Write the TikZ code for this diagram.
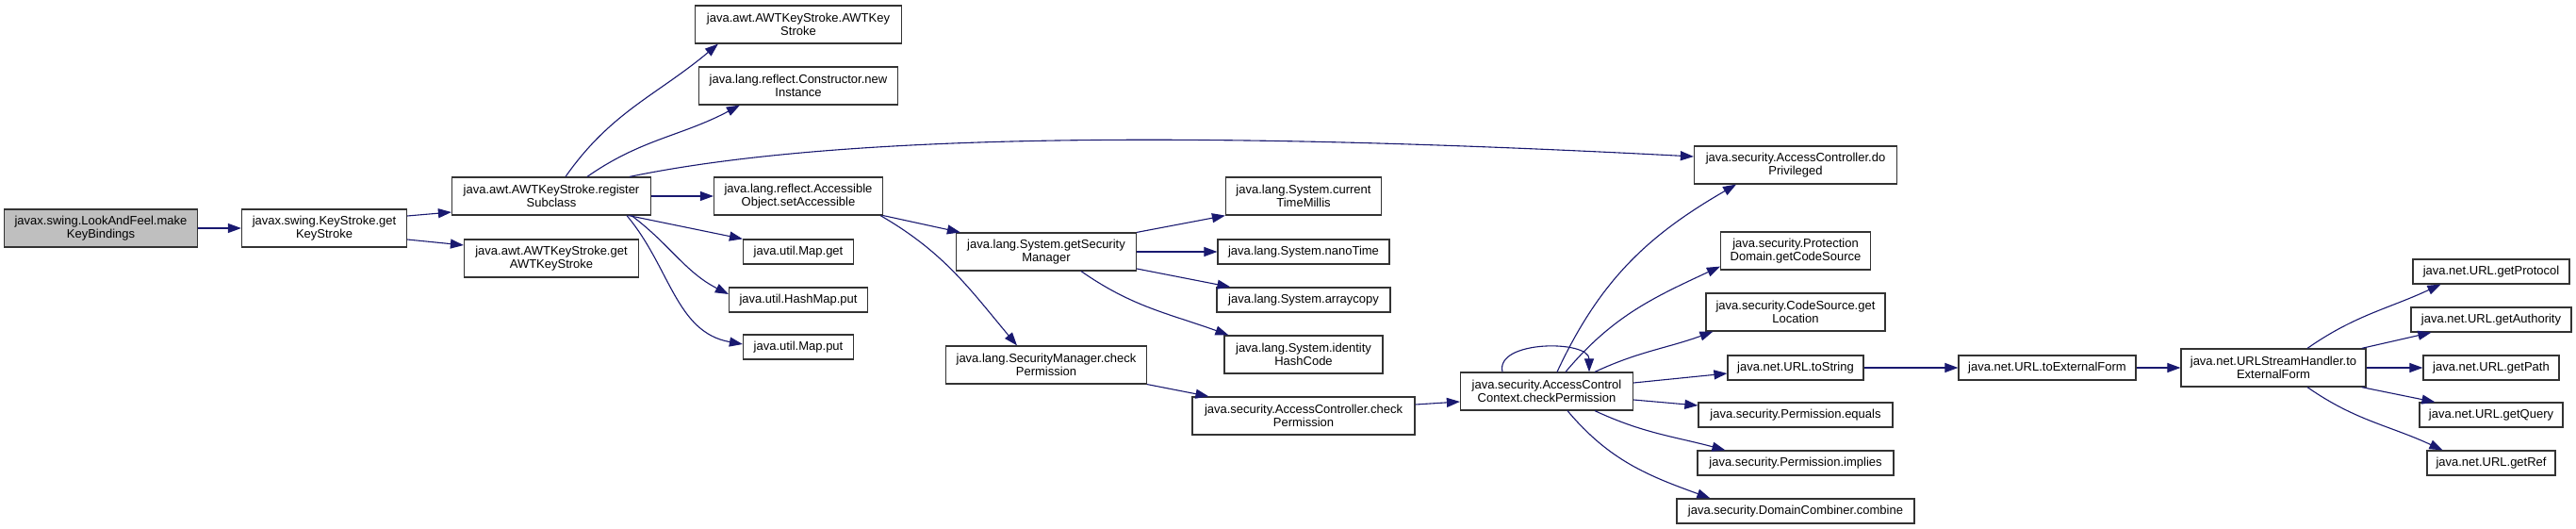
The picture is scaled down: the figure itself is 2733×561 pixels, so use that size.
\documentclass[tikz,border=0pt]{standalone}
\usepackage{fontspec}
\setmainfont{Liberation Sans}
\usetikzlibrary{arrows.meta}
\definecolor{edgeblue}{HTML}{191970}
\definecolor{rootgray}{HTML}{BFBFBF}
\begin{document}
\begin{tikzpicture}[x=1pt, y=1pt, font=\fontsize{13}{14.5}\selectfont]
    % Define styles
    \tikzset{
        func/.style={rectangle, draw=black!80, line width=1.2pt, fill=white, inner sep=0pt, align=center, minimum height=40pt},
        leaf/.style={func, minimum height=26pt},
        root/.style={func, fill=rootgray},
        arrow/.style={-{Triangle[length=14pt, width=10pt]}, draw=edgeblue, line width=1.1pt},
    }

    % Canvas
    \fill[white] (0,0) rectangle (2733,-561);
    \useasboundingbox (0,0) rectangle (2733,-561);

    % Caller chain
    \node[root, minimum width=205] (lookfeel) at (107,-242) {javax.swing.LookAndFeel.make\\KeyBindings};
    \node[func, minimum width=175] (getks) at (344,-242) {javax.swing.KeyStroke.get\\KeyStroke};
    \node[func, minimum width=211] (regsub) at (585,-208) {java.awt.AWTKeyStroke.register\\Subclass};
    \node[func, minimum width=185] (getawt) at (585,-274) {java.awt.AWTKeyStroke.get\\AWTKeyStroke};

    % Callees of registerSubclass
    \node[func, minimum width=219] (awtctor) at (847,-26) {java.awt.AWTKeyStroke.AWTKey\\Stroke};
    \node[func, minimum width=211] (newinst) at (847,-91) {java.lang.reflect.Constructor.new\\Instance};
    \node[func, minimum width=179] (setacc) at (847,-208) {java.lang.reflect.Accessible\\Object.setAccessible};
    \node[leaf, minimum width=117] (mapget) at (847,-267) {java.util.Map.get};
    \node[leaf, minimum width=147] (hashput) at (847,-318) {java.util.HashMap.put};
    \node[leaf, minimum width=117] (mapput) at (847,-368) {java.util.Map.put};

    % Security manager
    \node[func, minimum width=191] (getsm) at (1110,-267) {java.lang.System.getSecurity\\Manager};
    \node[func, minimum width=213] (smcheck) at (1110,-387) {java.lang.SecurityManager.check\\Permission};
    \node[func, minimum width=165] (curtime) at (1383,-208) {java.lang.System.current\\TimeMillis};
    \node[leaf, minimum width=182] (nano) at (1383,-267) {java.lang.System.nanoTime};
    \node[leaf, minimum width=184] (arraycopy) at (1383,-318) {java.lang.System.arraycopy};
    \node[func, minimum width=168] (identity) at (1383,-376) {java.lang.System.identity\\HashCode};
    \node[func, minimum width=236] (accheck) at (1383,-441) {java.security.AccessController.check\\Permission};
    \node[func, minimum width=183] (ctxcheck) at (1641,-415) {java.security.AccessControl\\Context.checkPermission};

    % Callees of checkPermission
    \node[func, minimum width=215] (dopriv) at (1905,-175) {java.security.AccessController.do\\Privileged};
    \node[func, minimum width=159] (codesrc) at (1905,-266) {java.security.Protection\\Domain.getCodeSource};
    \node[func, minimum width=190] (location) at (1905,-331) {java.security.CodeSource.get\\Location};
    \node[leaf, minimum width=144] (tostring) at (1905,-390) {java.net.URL.toString};
    \node[leaf, minimum width=206] (permeq) at (1905,-440) {java.security.Permission.equals};
    \node[leaf, minimum width=208] (permimp) at (1905,-491) {java.security.Permission.implies};
    \node[leaf, minimum width=252] (combine) at (1905,-542) {java.security.DomainCombiner.combine};

    % URL helpers
    \node[leaf, minimum width=188] (extform) at (2172,-390) {java.net.URL.toExternalForm};
    \node[func, minimum width=196] (handler) at (2412,-390) {java.net.URLStreamHandler.to\\ExternalForm};
    \node[leaf, minimum width=166] (protocol) at (2643,-288) {java.net.URL.getProtocol};
    \node[leaf, minimum width=170] (authority) at (2643,-339) {java.net.URL.getAuthority};
    \node[leaf, minimum width=144] (path) at (2643,-390) {java.net.URL.getPath};
    \node[leaf, minimum width=152] (query) at (2643,-440) {java.net.URL.getQuery};
    \node[leaf, minimum width=136] (ref) at (2643,-491) {java.net.URL.getRef};

    % Arrows
    \draw[arrow] (lookfeel) -- (getks);
    \draw[arrow] ([yshift=13]getks.east) -- ([yshift=-17]regsub.west);
    \draw[arrow] ([yshift=-12]getks.east) -- ([yshift=14]getawt.west);

    \draw[arrow] ([xshift=15]regsub.north) to[out=55, in=-140] ([xshift=25]awtctor.south west);
    \draw[arrow] ([xshift=38]regsub.north) to[out=35, in=-152] ([xshift=44]newinst.south west);
    \draw[arrow] ([xshift=83]regsub.north) .. controls +(232,48) and +(-497,26) .. ([yshift=9]dopriv.west);
    \draw[arrow] (regsub) -- (setacc);
    \draw[arrow] ([xshift=82]regsub.south) -- (mapget.north west);
    \draw[arrow] ([xshift=85]regsub.south) to[out=-37, in=153] ([yshift=6]hashput.west);
    \draw[arrow] ([xshift=80]regsub.south) to[out=-50, in=170] ([yshift=3]mapput.west);

    \draw[arrow] (setacc.south east) -- ([xshift=5]getsm.north west);
    \draw[arrow] ([xshift=-3]setacc.south east) to[out=-30, in=130] ([xshift=-31]smcheck.north);

    \draw[arrow] (getsm.north east) -- (curtime.south west);
    \draw[arrow] (getsm) -- (nano);
    \draw[arrow] ([yshift=-18]getsm.east) -- ([xshift=15]arraycopy.north west);
    \draw[arrow] ([xshift=37]getsm.south) to[out=-35, in=160] ([xshift=5]identity.north west);
    \draw[arrow] (smcheck.south east) -- ([xshift=18]accheck.north west);
    \draw[arrow] ([yshift=12]accheck.east) -- ([yshift=-11]ctxcheck.west);

    \draw[arrow] ([xshift=-47]ctxcheck.north) .. controls +(-8,34) and +(0,34) .. ([xshift=45]ctxcheck.north);
    \draw[arrow] ([xshift=11]ctxcheck.north) to[out=65, in=-150] ([xshift=-63]dopriv.south);
    \draw[arrow] ([xshift=20]ctxcheck.north) to[out=50, in=-155] ([yshift=4]codesrc.south west);
    \draw[arrow] ([xshift=51]ctxcheck.north) to[out=25, in=-160] ([xshift=8]location.south west);
    \draw[arrow] ([yshift=9]ctxcheck.east) -- ([yshift=-6]tostring.west);
    \draw[arrow] ([yshift=-9]ctxcheck.east) -- ([yshift=10]permeq.west);
    \draw[arrow] ([xshift=51]ctxcheck.south) to[out=-25, in=165] ([xshift=30]permimp.north west);
    \draw[arrow] ([xshift=22]ctxcheck.south) to[out=-50, in=160] ([xshift=36]combine.north west);

    \draw[arrow] (tostring) -- (extform);
    \draw[arrow] (extform) -- (handler);
    \draw[arrow] ([xshift=36]handler.north) to[out=35, in=-155] ([xshift=30]protocol.south west);
    \draw[arrow] ([xshift=-5]handler.north east) -- ([xshift=22]authority.south west);
    \draw[arrow] (handler) -- (path);
    \draw[arrow] ([xshift=-5]handler.south east) -- ([xshift=17]query.north west);
    \draw[arrow] ([xshift=36]handler.south) to[out=-35, in=155] ([xshift=17]ref.north west);
\end{tikzpicture}
\end{document}
